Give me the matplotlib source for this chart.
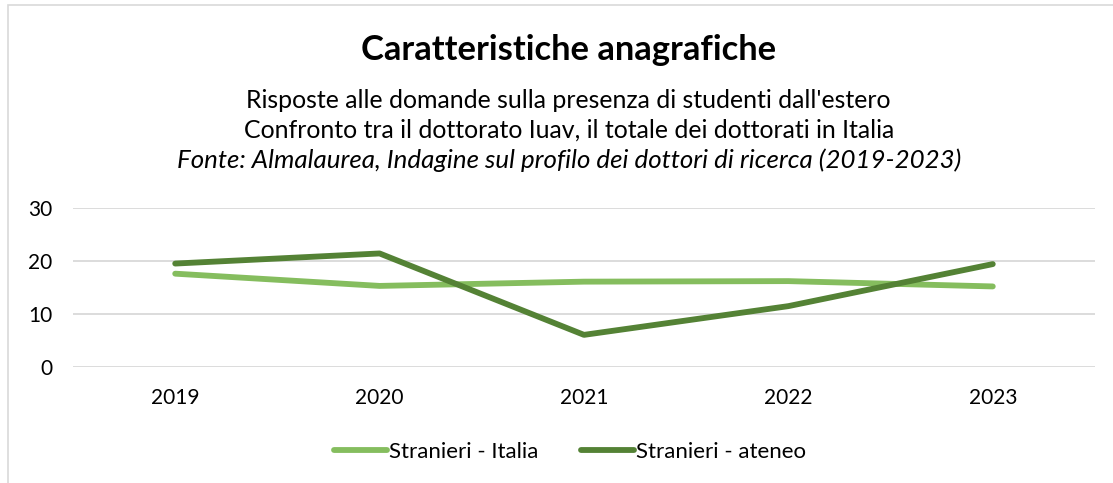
import matplotlib.pyplot as plt
from matplotlib.patches import Rectangle

years = ["2019", "2020", "2021", "2022", "2023"]
stranieri_italia = [17.6, 15.3, 16.1, 16.2, 15.2]
stranieri_ateneo = [19.5, 21.4, 6.1, 11.5, 19.4]

plt.rcParams['font.family'] = ['Lato', 'DejaVu Sans']

fig = plt.figure(figsize=(11.13, 4.83), dpi=100)
ax = fig.add_axes([0.0656, 0.2395, 0.9182, 0.3305])

x = list(range(len(years)))
ax.plot(x, stranieri_italia, color='#85BD5E', lw=4.2, solid_capstyle='round',
        solid_joinstyle='round', label='Stranieri - Italia')
ax.plot(x, stranieri_ateneo, color='#548235', lw=4.2, solid_capstyle='round',
        solid_joinstyle='round', label='Stranieri - ateneo')

ax.set_xlim(-0.5, len(years) - 0.5)
ax.set_ylim(0, 30)
ax.set_yticks([0, 10, 20, 30])
ax.set_xticks(x)
ax.set_xticklabels(years)
ax.grid(axis='y', color='#D9D9D9', lw=1.3)
ax.set_axisbelow(True)
for s in ax.spines.values():
    s.set_visible(False)
ax.tick_params(length=0, labelsize=15, colors='#000000')
ax.tick_params(axis='y', pad=15)
ax.tick_params(axis='x', pad=15)

fig.text(0.511, 0.897, "Caratteristiche anagrafiche", ha='center', va='center',
         fontsize=24.8, fontweight='bold')
fig.text(0.511, 0.792, "Risposte alle domande sulla presenza di studenti dall'estero",
         ha='center', va='center', fontsize=17.9)
fig.text(0.511, 0.730, "Confronto tra il dottorato Iuav, il totale dei dottorati in Italia",
         ha='center', va='center', fontsize=17.9)
fig.text(0.511, 0.668, "Fonte: Almalaurea, Indagine sul profilo dei dottori di ricerca (2019-2023)",
         ha='center', va='center', fontsize=18.6, style='italic')

fig.legend(loc='center', bbox_to_anchor=(0.512, 0.065), ncol=2, frameon=False,
           fontsize=16, handlelength=2.4, handletextpad=0.1, columnspacing=1.9)

fig.patches.append(Rectangle((0.007, -0.01), 1.0, 1.0, transform=fig.transFigure,
                             fill=False, edgecolor='#D9D9D9', lw=1.2))

fig.savefig("out.png", dpi=100)
